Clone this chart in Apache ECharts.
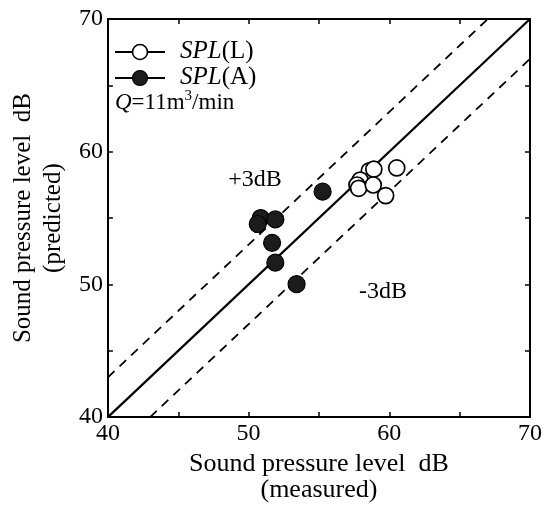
<!DOCTYPE html>
<html>
<head>
<meta charset="utf-8">
<script src="https://cdn.jsdelivr.net/npm/echarts@6/dist/echarts.min.js"></script>
<style>
html,body{margin:0;padding:0;background:#fff;}
#chart{width:547px;height:508px;}
</style>
</head>
<body>
<div id="chart"></div>
<script>
// Data
const measuredL  = [58.58, 58.90, 60.53, 57.93, 57.70, 57.82, 58.86, 59.74];
const predictedL = [58.56, 58.68, 58.78, 57.86, 57.49, 57.24, 57.49, 56.69];
const measuredA  = [50.86, 50.65, 51.90, 51.67, 51.90, 53.41, 55.26];
const predictedA = [55.00, 54.55, 54.90, 53.13, 51.64, 50.02, 56.99];
const lineEqual = [[40, 40], [70, 70]];
const linePlus3 = [[40, 43], [67, 70]];
const lineMinus3 = [[43, 40], [70, 67]];
const axisMin = 40, axisMax = 70, tickStep = 5;

const FONT = '"Liberation Serif", "DejaVu Serif", serif';
const chart = echarts.init(document.getElementById('chart'), null, {renderer: 'canvas'});

function zip(a, b) { return a.map((v, i) => [v, b[i]]); }

const baseAxis = {
  type: 'value', min: axisMin, max: axisMax, interval: tickStep,
  splitLine: {show: false},
  axisLine: {show: true, onZero: false, lineStyle: {color: '#000', width: 2}},
  axisTick: {show: true, inside: true, length: 5, lineStyle: {color: '#000', width: 1.5}},
};

const option = {
  backgroundColor: '#fff',
  animation: false,
  grid: {left: 99, right: 17, top: 19, bottom: 87},
  xAxis: [
    Object.assign({}, baseAxis, {
      position: 'bottom',
      axisLabel: {
        color: '#000', fontFamily: FONT, fontSize: 24, margin: 5,
        formatter: v => (v % 10 === 0 ? String(v) : '')
      },
      name: 'Sound pressure level  dB\n(measured)',
      nameLocation: 'middle', nameGap: 29,
      nameTextStyle: {color: '#000', fontFamily: FONT, fontSize: 26, lineHeight: 26, align: 'center'}
    }),
    Object.assign({}, baseAxis, {position: 'top', axisLabel: {show: false}})
  ],
  yAxis: [
    Object.assign({}, baseAxis, {
      position: 'left',
      axisLabel: {
        color: '#000', fontFamily: FONT, fontSize: 24, margin: 5,
        formatter: v => (v % 10 === 0 ? String(v) : '')
      },
      name: 'Sound pressure level  dB\n(predicted)',
      nameLocation: 'middle', nameGap: 20,
      nameTextStyle: {color: '#000', fontFamily: FONT, fontSize: 25, lineHeight: 30, align: 'center'}
    }),
    Object.assign({}, baseAxis, {position: 'right', axisLabel: {show: false}})
  ],
  series: [
    {type: 'line', data: lineEqual, symbol: 'none', silent: true,
     lineStyle: {color: '#000', width: 2.2}, z: 2},
    {type: 'line', data: linePlus3, symbol: 'none', silent: true,
     lineStyle: {color: '#000', width: 1.8, type: [9, 7]}, z: 2},
    {type: 'line', data: lineMinus3, symbol: 'none', silent: true,
     lineStyle: {color: '#000', width: 1.8, type: [9, 7]}, z: 2},
    {name: 'SPL(L)', type: 'scatter', data: zip(measuredL, predictedL),
     symbol: 'circle', symbolSize: 16,
     itemStyle: {color: '#fff', borderColor: '#000', borderWidth: 1.7, opacity: 1}, z: 4},
    {name: 'SPL(A)', type: 'scatter', data: zip(measuredA, predictedA),
     symbol: 'circle', symbolSize: 17,
     itemStyle: {color: '#1c1c1c', borderColor: '#000', borderWidth: 1.2, opacity: 1}, z: 4}
  ],
  graphic: [
    // legend
    {type: 'line', shape: {x1: 115, y1: 52, x2: 165, y2: 52}, style: {stroke: '#000', lineWidth: 1.8}, z: 10},
    {type: 'circle', shape: {cx: 140, cy: 52, r: 7.5}, style: {fill: '#fff', stroke: '#000', lineWidth: 1.6}, z: 11},
    {type: 'text', left: 180, top: 39, z: 11,
     style: {text: '{i|SPL}{n|(L)}', rich: {
       i: {fontFamily: FONT, fontSize: 25, fontStyle: 'italic', fill: '#000'},
       n: {fontFamily: FONT, fontSize: 25, fill: '#000'}}}},
    {type: 'line', shape: {x1: 115, y1: 78, x2: 165, y2: 78}, style: {stroke: '#000', lineWidth: 1.8}, z: 10},
    {type: 'circle', shape: {cx: 140, cy: 78, r: 7.5}, style: {fill: '#1c1c1c', stroke: '#000', lineWidth: 1.2}, z: 11},
    {type: 'text', left: 180, top: 65, z: 11,
     style: {text: '{i|SPL}{n|(A)}', rich: {
       i: {fontFamily: FONT, fontSize: 25, fontStyle: 'italic', fill: '#000'},
       n: {fontFamily: FONT, fontSize: 25, fill: '#000'}}}},
    {type: 'text', left: 115, top: 89, z: 11,
     style: {text: '{i|Q}{n|=11m}{s|3}{n|/min}', rich: {
       i: {fontFamily: FONT, fontSize: 23, fontStyle: 'italic', fill: '#000', verticalAlign: 'bottom'},
       n: {fontFamily: FONT, fontSize: 23, fill: '#000', verticalAlign: 'bottom'},
       s: {fontFamily: FONT, fontSize: 15, fill: '#000', verticalAlign: 'top', padding: [0, 0, 10, 0]}}}},
    // annotations
    {type: 'text', x: 255, y: 180, z: 11,
     style: {text: '+3dB', fontFamily: FONT, fontSize: 24, fill: '#000', align: 'center', verticalAlign: 'middle'}},
    {type: 'text', x: 383, y: 292, z: 11,
     style: {text: '-3dB', fontFamily: FONT, fontSize: 24, fill: '#000', align: 'center', verticalAlign: 'middle'}}
  ]
};
chart.setOption(option);
</script>
</body>
</html>
